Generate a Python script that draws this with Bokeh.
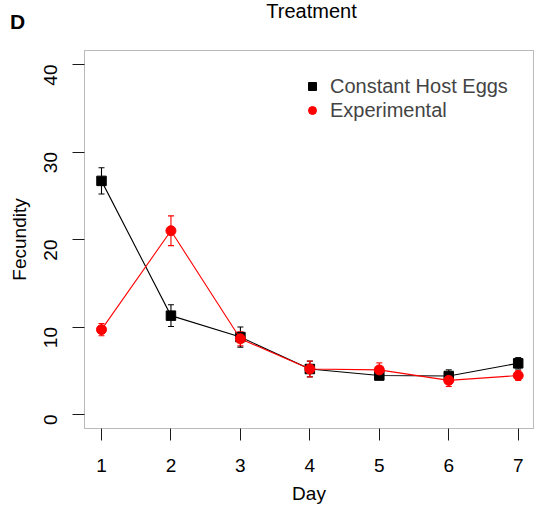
import math
from bokeh.plotting import figure
from bokeh.models import (ColumnDataSource, Whisker, TeeHead, Legend, LegendItem,
                          Label, FixedTicker, Range1d, BoxAnnotation)
from bokeh.embed import file_html
from bokeh.resources import INLINE

# ---- data ----
days = [1, 2, 3, 4, 5, 6, 7]
const_mean = [26.7, 11.3, 8.85, 5.2, 4.45, 4.4, 5.85]
const_se = [1.5, 1.25, 1.15, 0.9, 0.4, 0.7, 0.65]
exp_mean = [9.7, 21.0, 8.65, 5.2, 5.1, 3.9, 4.45]
exp_se = [0.7, 1.7, 0.8, 0.9, 0.8, 0.7, 0.55]
x_ticks = [1, 2, 3, 4, 5, 6, 7]
y_ticks = [0, 10, 20, 30, 40]
series_names = ["Constant Host Eggs", "Experimental"]
series_colors = ["black", "red"]
title_text = "Treatment"
panel_text = "D"

# ---- layout constants (the frame covers the whole canvas) ----
W, H = 534, 506
BOX_X = (0.755, 7.22)      # plot box (R usr region)
BOX_Y = (-1.6, 41.6)
PX_PER_X = 69.45
PX_PER_Y = 8.75
x0 = 1 - 101 / PX_PER_X
x1 = x0 + W / PX_PER_X
y0 = -(H - 414) / PX_PER_Y
y1 = y0 + H / PX_PER_Y

def px_x(px):
    return x0 + px / PX_PER_X

def px_y(py):
    return y1 - py / PX_PER_Y

FONT = "Liberation Sans"
FS = "19px"
INK = "#1a1a1a"

p = figure(width=W, height=H, output_backend="svg", toolbar_location=None,
           x_range=Range1d(x0, x1), y_range=Range1d(y0, y1), min_border=0)
p.title.text = ""
p.background_fill_color = "white"
p.border_fill_color = "white"
p.outline_line_color = None
p.xgrid.visible = False
p.ygrid.visible = False

p.add_layout(BoxAnnotation(left=BOX_X[0], right=BOX_X[1], bottom=BOX_Y[0], top=BOX_Y[1],
                           fill_alpha=0, line_color=INK, line_width=1, level="underlay"))

def style_axis(ax, ticks):
    ax.ticker = FixedTicker(ticks=ticks)
    ax.minor_tick_line_color = None
    ax.axis_line_color = None
    ax.major_tick_line_color = INK
    ax.major_tick_out = 12
    ax.major_tick_in = 0
    ax.major_label_text_font = FONT
    ax.major_label_text_font_size = FS
    ax.major_label_text_color = "black"
    ax.axis_label_text_font = FONT
    ax.axis_label_text_font_size = FS
    ax.axis_label_text_font_style = "normal"
    ax.axis_label_text_color = "black"

style_axis(p.xaxis[0], x_ticks)
style_axis(p.yaxis[0], y_ticks)
p.xaxis.fixed_location = BOX_Y[0]
p.yaxis.fixed_location = BOX_X[0]
p.xaxis.bounds = BOX_X
p.yaxis.bounds = BOX_Y
p.xaxis.axis_label = "Day"
p.yaxis.axis_label = "Fecundity"
p.xaxis.major_label_standoff = 18
p.xaxis.axis_label_standoff = 8
p.yaxis.major_label_orientation = math.pi / 2
p.yaxis.major_label_standoff = 22
p.yaxis.axis_label_standoff = 5

items = []
for name, color, mean, se, marker in [
    (series_names[0], series_colors[0], const_mean, const_se, "square"),
    (series_names[1], series_colors[1], exp_mean, exp_se, "circle"),
]:
    src = ColumnDataSource(dict(
        x=days, y=mean,
        lower=[m - s for m, s in zip(mean, se)],
        upper=[m + s for m, s in zip(mean, se)],
    ))
    p.line("x", "y", source=src, line_color=color, line_width=1.1)
    r = p.scatter("x", "y", source=src, marker=marker, size=10 if marker == "circle" else 9.5,
                  fill_color=color, line_color=color)
    w = Whisker(source=src, base="x", lower="lower", upper="upper",
                line_color=color, line_width=1.1,
                upper_head=TeeHead(size=6, line_color=color, line_width=1.1),
                lower_head=TeeHead(size=6, line_color=color, line_width=1.1))
    p.add_layout(w)
    items.append(LegendItem(label=name, renderers=[r]))

legend = Legend(items=items, location=(302, H - 122), orientation="vertical",
                glyph_width=20, glyph_height=24, label_height=24, spacing=0,
                padding=0, margin=0, label_standoff=8,
                label_text_font=FONT, label_text_font_size="20px",
                border_line_color=None, background_fill_alpha=0)
p.add_layout(legend, "center")

p.add_layout(Label(x=px_x(311), y=px_y(10.7), text=title_text, text_font=FONT,
                   text_font_size="20px", text_color="black",
                   text_align="center", text_baseline="alphabetic"))
p.add_layout(Label(x=px_x(17), y=px_y(21.0), text=panel_text, text_font=FONT,
                   text_font_style="bold", text_font_size="21px", text_color="black",
                   text_align="center", text_baseline="alphabetic"))

open("out.html", "w").write(file_html(p, INLINE))
